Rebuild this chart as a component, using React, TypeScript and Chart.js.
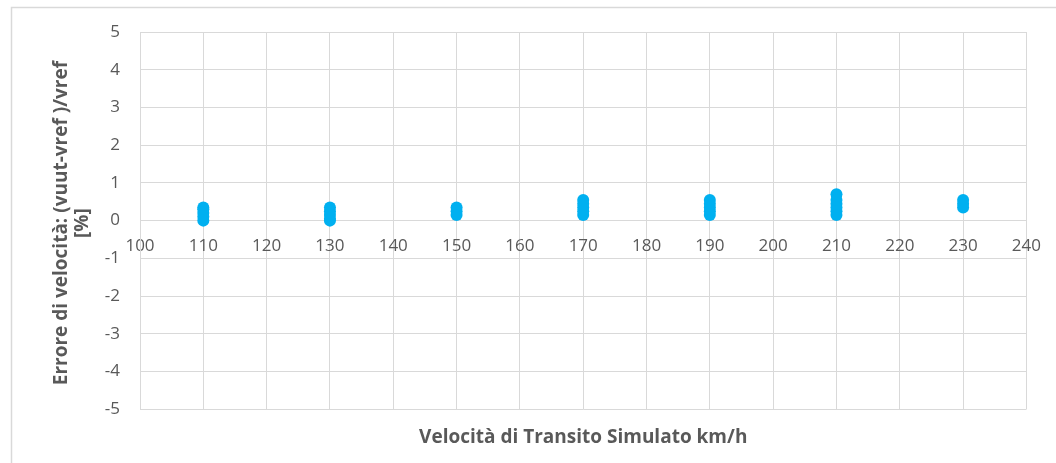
import React, { useEffect, useRef } from "react";
import { Chart, registerables } from "chart.js";

Chart.register(...registerables);

// Simulated transit speeds (km/h)
const speeds = [110, 130, 150, 170, 190, 210, 230];
// Velocity error values (%) read at each speed
const err110 = [0.35, 0.3, 0.2, 0.1, 0.0];
const err130 = [0.35, 0.25, 0.15, 0.05, 0.0];
const err150 = [0.35, 0.25, 0.15];
const err170 = [0.55, 0.45, 0.35, 0.25, 0.15];
const err190 = [0.55, 0.45, 0.35, 0.25, 0.15];
const err210 = [0.7, 0.55, 0.45, 0.35, 0.25, 0.15];
const err230 = [0.55, 0.45, 0.35];
const errorsBySpeed = [err110, err130, err150, err170, err190, err210, err230];

const xTitle = "Velocità di Transito Simulato km/h";
const yTitle = ["Errore di velocità: (vuut-vref )/vref ", "[%] "];

const GRID = "#d9d9d9";
const TEXT = "#595959";
const FONT = "'Open Sans', 'Liberation Sans', sans-serif";

const outerBorder = {
  id: "outerBorder",
  beforeDraw(chart: any) {
    const ctx = chart.ctx;
    ctx.save();
    ctx.strokeStyle = GRID;
    ctx.lineWidth = 1.5;
    ctx.beginPath();
    ctx.moveTo(11.5, chart.height + 5);
    ctx.lineTo(11.5, 7.5);
    ctx.lineTo(chart.width + 5, 7.5);
    ctx.stroke();
    ctx.restore();
  },
};

export default function App() {
  const ref = useRef<HTMLCanvasElement | null>(null);

  useEffect(() => {
    if (!ref.current) return;
    const points: { x: number; y: number }[] = [];
    speeds.forEach((s, i) => {
      errorsBySpeed[i].forEach((e) => points.push({ x: s, y: e }));
    });
    const chart = new Chart(ref.current, {
      type: "scatter",
      data: {
        datasets: [
          {
            data: points,
            backgroundColor: "#00B0F0",
            borderColor: "#00B0F0",
            pointRadius: 6,
            pointBorderWidth: 0,
            pointHoverRadius: 6,
          },
        ],
      },
      options: {
        animation: false,
        responsive: false,
        maintainAspectRatio: false,
        layout: { padding: { left: 0, top: 32, right: 28, bottom: 0 } },
        plugins: {
          legend: { display: false },
          tooltip: { enabled: false },
          title: {
            display: true,
            text: xTitle,
            position: "bottom",
            fullSize: false,
            color: TEXT,
            font: { family: FONT, size: 19, weight: "bold", lineHeight: 1.25 },
            padding: { top: 16, bottom: 14 },
          },
        },
        scales: {
          x: {
            type: "linear",
            min: 100,
            max: 240,
            position: { y: 0 } as any,
            ticks: {
              stepSize: 10,
              autoSkip: false,
              maxRotation: 0,
              padding: 15,
              color: TEXT,
              font: { family: FONT, size: 17 },
            },
            grid: { color: GRID, lineWidth: 1, drawTicks: false },
            border: { display: true, color: GRID, width: 1 },
          },
          y: {
            type: "linear",
            min: -5,
            max: 5,
            afterFit: (scale: any) => {
              scale.width = 140;
            },
            ticks: {
              stepSize: 1,
              padding: 20,
              color: TEXT,
              font: { family: FONT, size: 17 },
            },
            grid: { color: GRID, lineWidth: 1, drawTicks: false },
            border: { display: true, color: GRID, width: 1 },
            title: {
              display: true,
              text: yTitle,
              color: TEXT,
              font: { family: FONT, size: 19, weight: "bold", lineHeight: 1.1 },
              padding: { top: 51, bottom: 0 },
            },
          },
        },
      },
      plugins: [outerBorder],
    });
    return () => chart.destroy();
  }, []);

  return (
    <div style={{ position: "fixed", left: 0, top: 0, width: 1056, height: 463, background: "#fff" }}>
      <canvas ref={ref} width={1056} height={463} />
    </div>
  );
}
